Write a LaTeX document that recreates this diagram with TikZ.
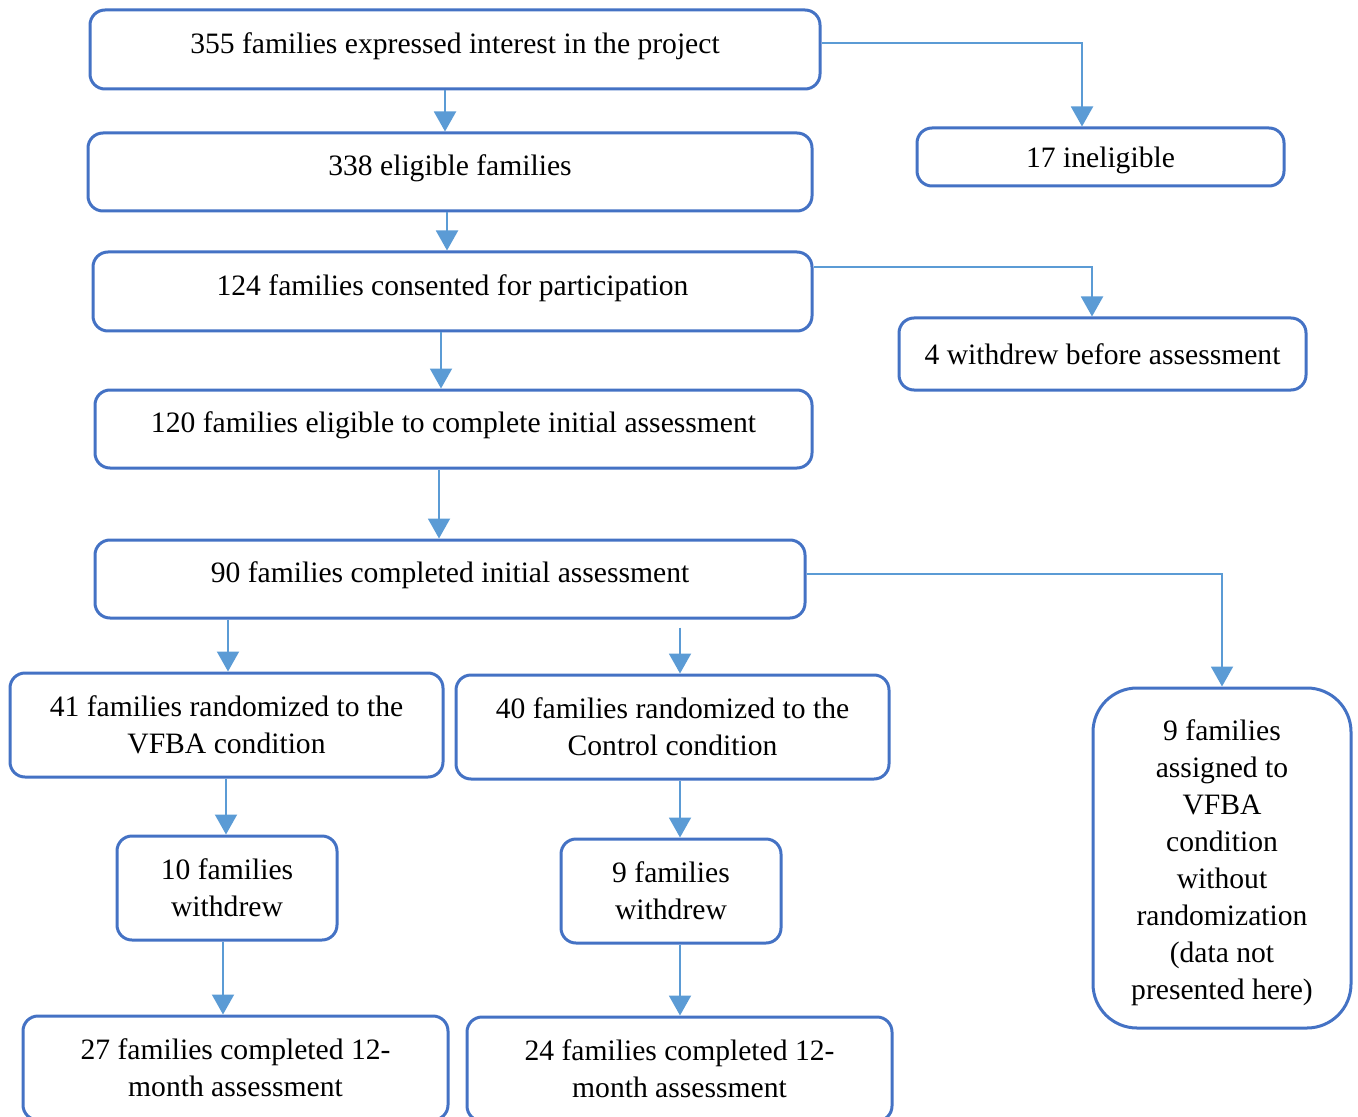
\documentclass[tikz,border=0pt]{standalone}
\usepackage{fontspec}
\setmainfont{LiberationSerif}[Extension=.ttf, UprightFont=*-Regular]
\usetikzlibrary{arrows.meta}
\definecolor{boxblue}{HTML}{4472C4}
\definecolor{arrblue}{HTML}{5B9BD5}

\begin{document}
\begin{tikzpicture}[x=0.5pt, y=-0.5pt,
    box/.style={draw=boxblue, line width=1.5pt, rounded corners=7.5pt, align=center,
      inner sep=0pt, font=\fontsize{14.8pt}{18.5pt}\selectfont},
    mainbox/.style={box, text depth=6.7pt},
    arr/.style={draw=arrblue, line width=1pt, -{Triangle[length=10pt, width=11pt]}}]
      \useasboundingbox (0,0) rectangle (1358,1117);
      \node[mainbox, minimum width=365pt, minimum height=39.5pt] (interest) at (455,49.5) {355 families expressed interest in the project};
      \node[mainbox, minimum width=362pt, minimum height=39pt] (eligible) at (450,172) {338 eligible families};
      \node[mainbox, minimum width=359.5pt, minimum height=39.5pt] (consent) at (452.5,291.5) {124 families consented for participation};
      \node[mainbox, minimum width=358.5pt, minimum height=39pt] (initelig) at (453.5,429) {120 families eligible to complete initial assessment};
      \node[mainbox, minimum width=355pt, minimum height=39pt] (initdone) at (450,579) {90 families completed initial assessment};
      \node[box, text height=14pt, minimum width=183.5pt, minimum height=29pt] (inelig) at (1100.5,157) {17 ineligible};
      \node[box, minimum width=203.5pt, minimum height=36pt] (wdbefore) at (1102.5,354) {4 withdrew before assessment};
      \node[box, minimum width=216.5pt, minimum height=52pt] (vfba) at (226.5,725) {41 families randomized to the\\VFBA condition};
      \node[box, minimum width=216.5pt, minimum height=52pt] (control) at (672.5,727) {40 families randomized to the\\Control condition};
      \node[box, minimum width=110pt, minimum height=52pt] (wdvfba) at (227,888) {10 families\\withdrew};
      \node[box, minimum width=110pt, minimum height=52pt] (wdcontrol) at (671,891) {9 families\\withdrew};
      \node[box, minimum width=212.5pt, minimum height=52pt] (donevfba) at (235.5,1068) {27 families completed 12-\\month assessment};
      \node[box, minimum width=212.5pt, minimum height=52pt] (donecontrol) at (679.5,1069) {24 families completed 12-\\month assessment};
      \node[box, rounded corners=22pt, minimum width=129pt, minimum height=170pt] (norand) at (1222,858) {\\[-3.5pt]9 families\\assigned to\\VFBA\\condition\\without\\randomization\\(data not\\presented here)};
      \draw[arr] (interest.south -| 445,0) -- (eligible.north -| 445,0);
      \draw[arr] (eligible.south -| 447,0) -- (consent.north -| 447,0);
      \draw[arr] (consent.south -| 441,0) -- (initelig.north -| 441,0);
      \draw[arr] (initelig.south -| 439,0) -- (initdone.north -| 439,0);
      \draw[arr] (initdone.south -| 228,0) -- (vfba.north -| 228,0);
      \draw[arr, shorten <=4pt] (initdone.south -| 680,0) -- (control.north -| 680,0);
      \draw[arr] (vfba.south -| 226,0) -- (wdvfba.north -| 226,0);
      \draw[arr] (control.south -| 680,0) -- (wdcontrol.north -| 680,0);
      \draw[arr] (wdvfba.south -| 223,0) -- (donevfba.north -| 223,0);
      \draw[arr] (wdcontrol.south -| 680,0) -- (donecontrol.north -| 680,0);
      \draw[arr] (interest.east |- 0,43) -| (inelig.north -| 1082,0);
      \draw[arr] (consent.east |- 0,267) -| (wdbefore.north -| 1092,0);
      \draw[arr] (initdone.east |- 0,574) -| (norand.north);
    \end{tikzpicture}
\end{document}
